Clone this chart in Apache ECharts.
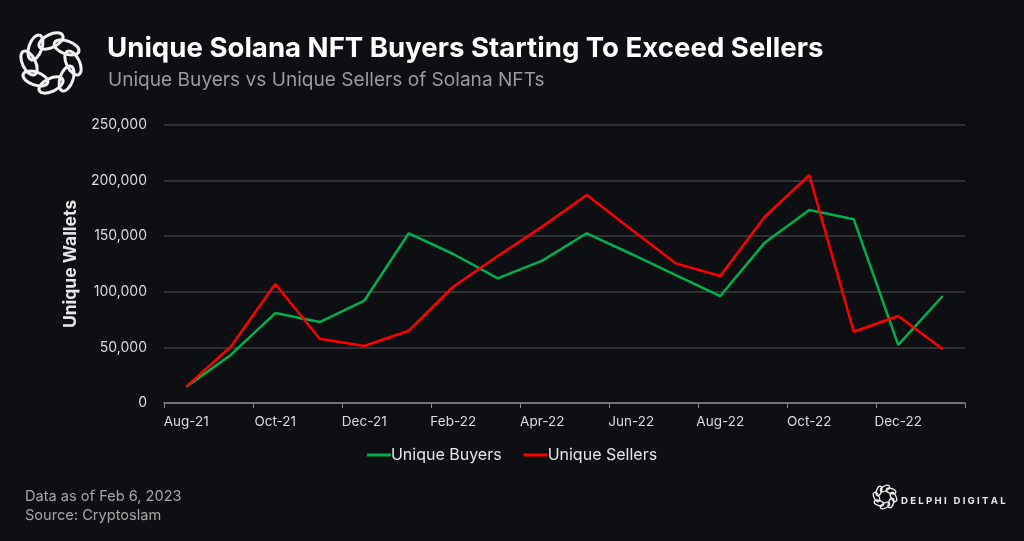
<!DOCTYPE html>
<html><head><meta charset="utf-8">
<script src="https://cdn.jsdelivr.net/npm/echarts@6/dist/echarts.min.js"></script>
<style>html,body{margin:0;padding:0;background:#0e0f13;}#c{width:1024px;height:541px;}</style>
</head><body><div id="c"></div>
<script>
const months = ['Aug-21','Sep-21','Oct-21','Nov-21','Dec-21','Jan-22','Feb-22','Mar-22','Apr-22','May-22','Jun-22','Jul-22','Aug-22','Sep-22','Oct-22','Nov-22','Dec-22','Jan-23'];
const buyers = [14700, 43200, 80900, 72800, 92000, 152600, 134000, 112100, 128000, 152600, 134000, 115100, 96200, 144200, 173600, 165200, 52200, 96200];
const sellers = [14700, 50600, 107000, 57800, 51300, 65000, 104600, 132200, 158600, 187000, 156000, 125600, 114200, 167500, 205000, 64100, 78200, 48300];
const yTicks = [0, 50000, 100000, 150000, 200000, 250000];

function logo(cx, cy, R, rx, ry, w) {
  const els = [];
  const n = 8;
  for (let i = 0; i < n; i++) {
    const a = i * 2 * Math.PI / n;
    els.push({
      type: 'ellipse',
      shape: { cx: 0, cy: 0, rx: rx, ry: ry },
      x: cx + R * Math.cos(a), y: cy + R * Math.sin(a),
      rotation: -(a + Math.PI / 2) + 0.45,
      style: { fill: 'none', stroke: '#f2f2f2', lineWidth: w },
      silent: true
    });
  }
  return els;
}

const chart = echarts.init(document.getElementById('c'));
chart.setOption({
  backgroundColor: '#0e0f13',
  animation: false,
  title: [
    { text: 'Unique Solana NFT Buyers Starting To Exceed Sellers', left: 102, top: 30,
      textStyle: { color: '#ffffff', fontFamily: 'Inter', fontWeight: 'bold', fontSize: 27.6 } },
    { text: 'Unique Buyers vs Unique Sellers of Solana NFTs', left: 103, top: 66,
      textStyle: { color: '#9b9b9f', fontFamily: 'Inter', fontWeight: 'normal', fontSize: 19.1 } },
    { text: 'Data as of Feb 6, 2023\nSource: Cryptoslam', left: 20, top: 482,
      textStyle: { color: '#a6a6a6', fontFamily: 'Inter', fontWeight: 'normal', fontSize: 14.6, lineHeight: 19 } },
    { text: 'D E L P H I   D I G I T A L', left: 896, top: 491,
      textStyle: { color: '#e8e8e8', fontFamily: 'Inter', fontWeight: 'bold', fontSize: 9.6 } }
  ],
  grid: { left: 164, right: 59, top: 125, bottom: 138 },
  legend: {
    bottom: 73, left: 'center', itemWidth: 24, itemHeight: 3, itemGap: 22,
    icon: 'rect',
    textStyle: { color: '#e6e6e6', fontFamily: 'Inter', fontSize: 16, padding: [0, 0, 0, -5] },
    data: ['Unique Buyers', 'Unique Sellers']
  },
  xAxis: {
    type: 'category', data: months, boundaryGap: true,
    axisLine: { lineStyle: { color: '#8a8a8a', width: 1.5 } },
    axisTick: { show: true, interval: 1, length: 5, lineStyle: { color: '#8a8a8a' } },
    axisLabel: { interval: 1, color: '#dcdcdc', fontFamily: 'Inter', fontSize: 13.5, margin: 12 }
  },
  yAxis: {
    type: 'value', min: 0, max: 250000, interval: 50000,
    name: 'Unique Wallets', nameLocation: 'middle', nameGap: 80,
    nameTextStyle: { color: '#e6e6e6', fontFamily: 'Inter', fontWeight: 'bold', fontSize: 17.5 },
    axisLine: { show: false }, axisTick: { show: false },
    splitLine: { lineStyle: { color: '#3c3d42', width: 1.5 } },
    axisLabel: { color: '#dcdcdc', fontFamily: 'Inter', fontSize: 14, margin: 17,
      formatter: v => yTicks.includes(v) ? v.toLocaleString('en-US') : '' }
  },
  series: [
    { name: 'Unique Buyers', type: 'line', data: buyers, symbol: 'none',
      lineStyle: { color: '#00b04f', width: 2.5 }, itemStyle: { color: '#00b04f' } },
    { name: 'Unique Sellers', type: 'line', data: sellers, symbol: 'none',
      lineStyle: { color: '#ff0000', width: 2.5 }, itemStyle: { color: '#ff0000' } }
  ],
  graphic: [].concat(logo(51, 63, 22, 13, 6.5, 3), logo(885, 497, 8.5, 5, 2.5, 1.3))
});
</script></body></html>
